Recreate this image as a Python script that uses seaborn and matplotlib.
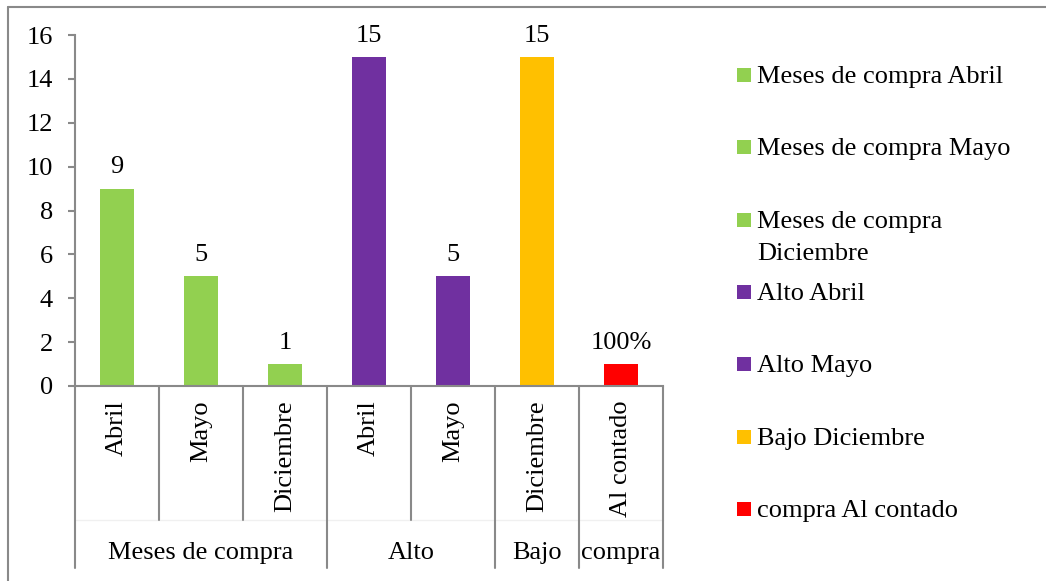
import matplotlib.pyplot as plt
import pandas as pd
import seaborn as sns
from matplotlib.lines import Line2D
from matplotlib.patches import Rectangle

groups = ["Meses de compra", "Meses de compra", "Meses de compra", "Alto", "Alto", "Bajo", "compra"]
months = ["Abril", "Mayo", "Diciembre", "Abril", "Mayo", "Diciembre", "Al contado"]
values = [9, 5, 1, 15, 5, 15, 1]
value_labels = ["9", "5", "1", "15", "5", "15", "100%"]
colors = ["#92D050", "#92D050", "#92D050", "#7030A0", "#7030A0", "#FFC000", "#FF0000"]
legend_labels = ["Meses de compra Abril", "Meses de compra Mayo", "Meses de compra\nDiciembre",
                 "Alto Abril", "Alto Mayo", "Bajo Diciembre", "compra Al contado"]

sns.set_theme(style="white")
plt.rcParams["font.family"] = ["Liberation Serif", "DejaVu Serif"]
plt.rcParams["text.color"] = "black"
FS = 19
GRAY = "#898989"
W, H = 1046, 581

df = pd.DataFrame({"key": [f"{g} {m}" for g, m in zip(groups, months)], "value": values})

fig = plt.figure(figsize=(W / 100, H / 100), dpi=100)
ax = fig.add_axes([75 / W, 1 - 386 / H, 588 / W, 351 / H])

sns.barplot(data=df, x="key", y="value", hue="key", palette=colors, width=0.4,
            saturation=1, legend=False, ax=ax, linewidth=0, edgecolor="none")

ax.set_xlim(-0.5, 6.5)
ax.set_ylim(0, 16)
ax.set_yticks(range(0, 17, 2))
ax.set_xlabel("")
ax.set_ylabel("")
ax.set_xticks([])
for s in ["top", "right"]:
    ax.spines[s].set_visible(False)
for s in ["left", "bottom"]:
    ax.spines[s].set_color(GRAY)
    ax.spines[s].set_linewidth(1.5)
ax.tick_params(axis="y", direction="out", length=5, width=1.5, color=GRAY,
               labelsize=FS, labelcolor="black", pad=11, left=True)

# value labels
for i, (v, lab) in enumerate(zip(values, value_labels)):
    ax.annotate(lab, (i, v), xytext=(0, 11), textcoords="offset points",
                ha="center", va="baseline", fontsize=FS, color="black")

tr = ax.get_xaxis_transform()
# month labels (rotated)
for i, m in enumerate(months):
    ax.text(i, (386 - 400) / 351, m, rotation=90, ha="center", va="top",
            fontsize=FS, color="black", transform=tr)

# separators between categories
inner_bottom = (386 - 520) / 351
outer_bottom = (386 - 568) / 351
ax.plot([-0.5, 6.5], [inner_bottom, inner_bottom], transform=tr, clip_on=False,
        color="#f0f0f0", lw=1)
for k in range(8):
    x = k - 0.5
    boundary = k == 0 or k == 7 or groups[k - 1] != groups[k]
    yb = outer_bottom if boundary else inner_bottom
    ax.plot([x, x], [0, yb], transform=tr, clip_on=False, color=GRAY, lw=1.5)

# group labels
seen = []
for g in groups:
    if g not in seen:
        seen.append(g)
for g in seen:
    idx = [i for i, gg in enumerate(groups) if gg == g]
    cx = (idx[0] + idx[-1]) / 2
    ax.text(cx, (386 - 553) / 351, g, ha="center", va="center", fontsize=FS,
            color="black", transform=tr)

# legend
y0, step = 75, 72.3
for j, (lab, c) in enumerate(zip(legend_labels, colors)):
    yc = y0 + j * step
    fig.add_artist(Rectangle((737 / W, 1 - (yc + 7) / H), 14 / W, 14 / H,
                             transform=fig.transFigure, facecolor=c, edgecolor="none"))
    for n, line in enumerate(lab.split("\n")):
        fig.text(757 / W, 1 - (yc + 8 + n * 32) / H, line, ha="left", va="baseline",
                 fontsize=FS, color="black")

# outer frame
fig.add_artist(Line2D([8 / W, 8 / W], [0, 1 - 6.5 / H], transform=fig.transFigure,
                      color=GRAY, lw=1.5))
fig.add_artist(Line2D([8 / W, 1], [1 - 6.5 / H, 1 - 6.5 / H], transform=fig.transFigure,
                      color=GRAY, lw=1.5))

fig.savefig("out.png", dpi=100)
